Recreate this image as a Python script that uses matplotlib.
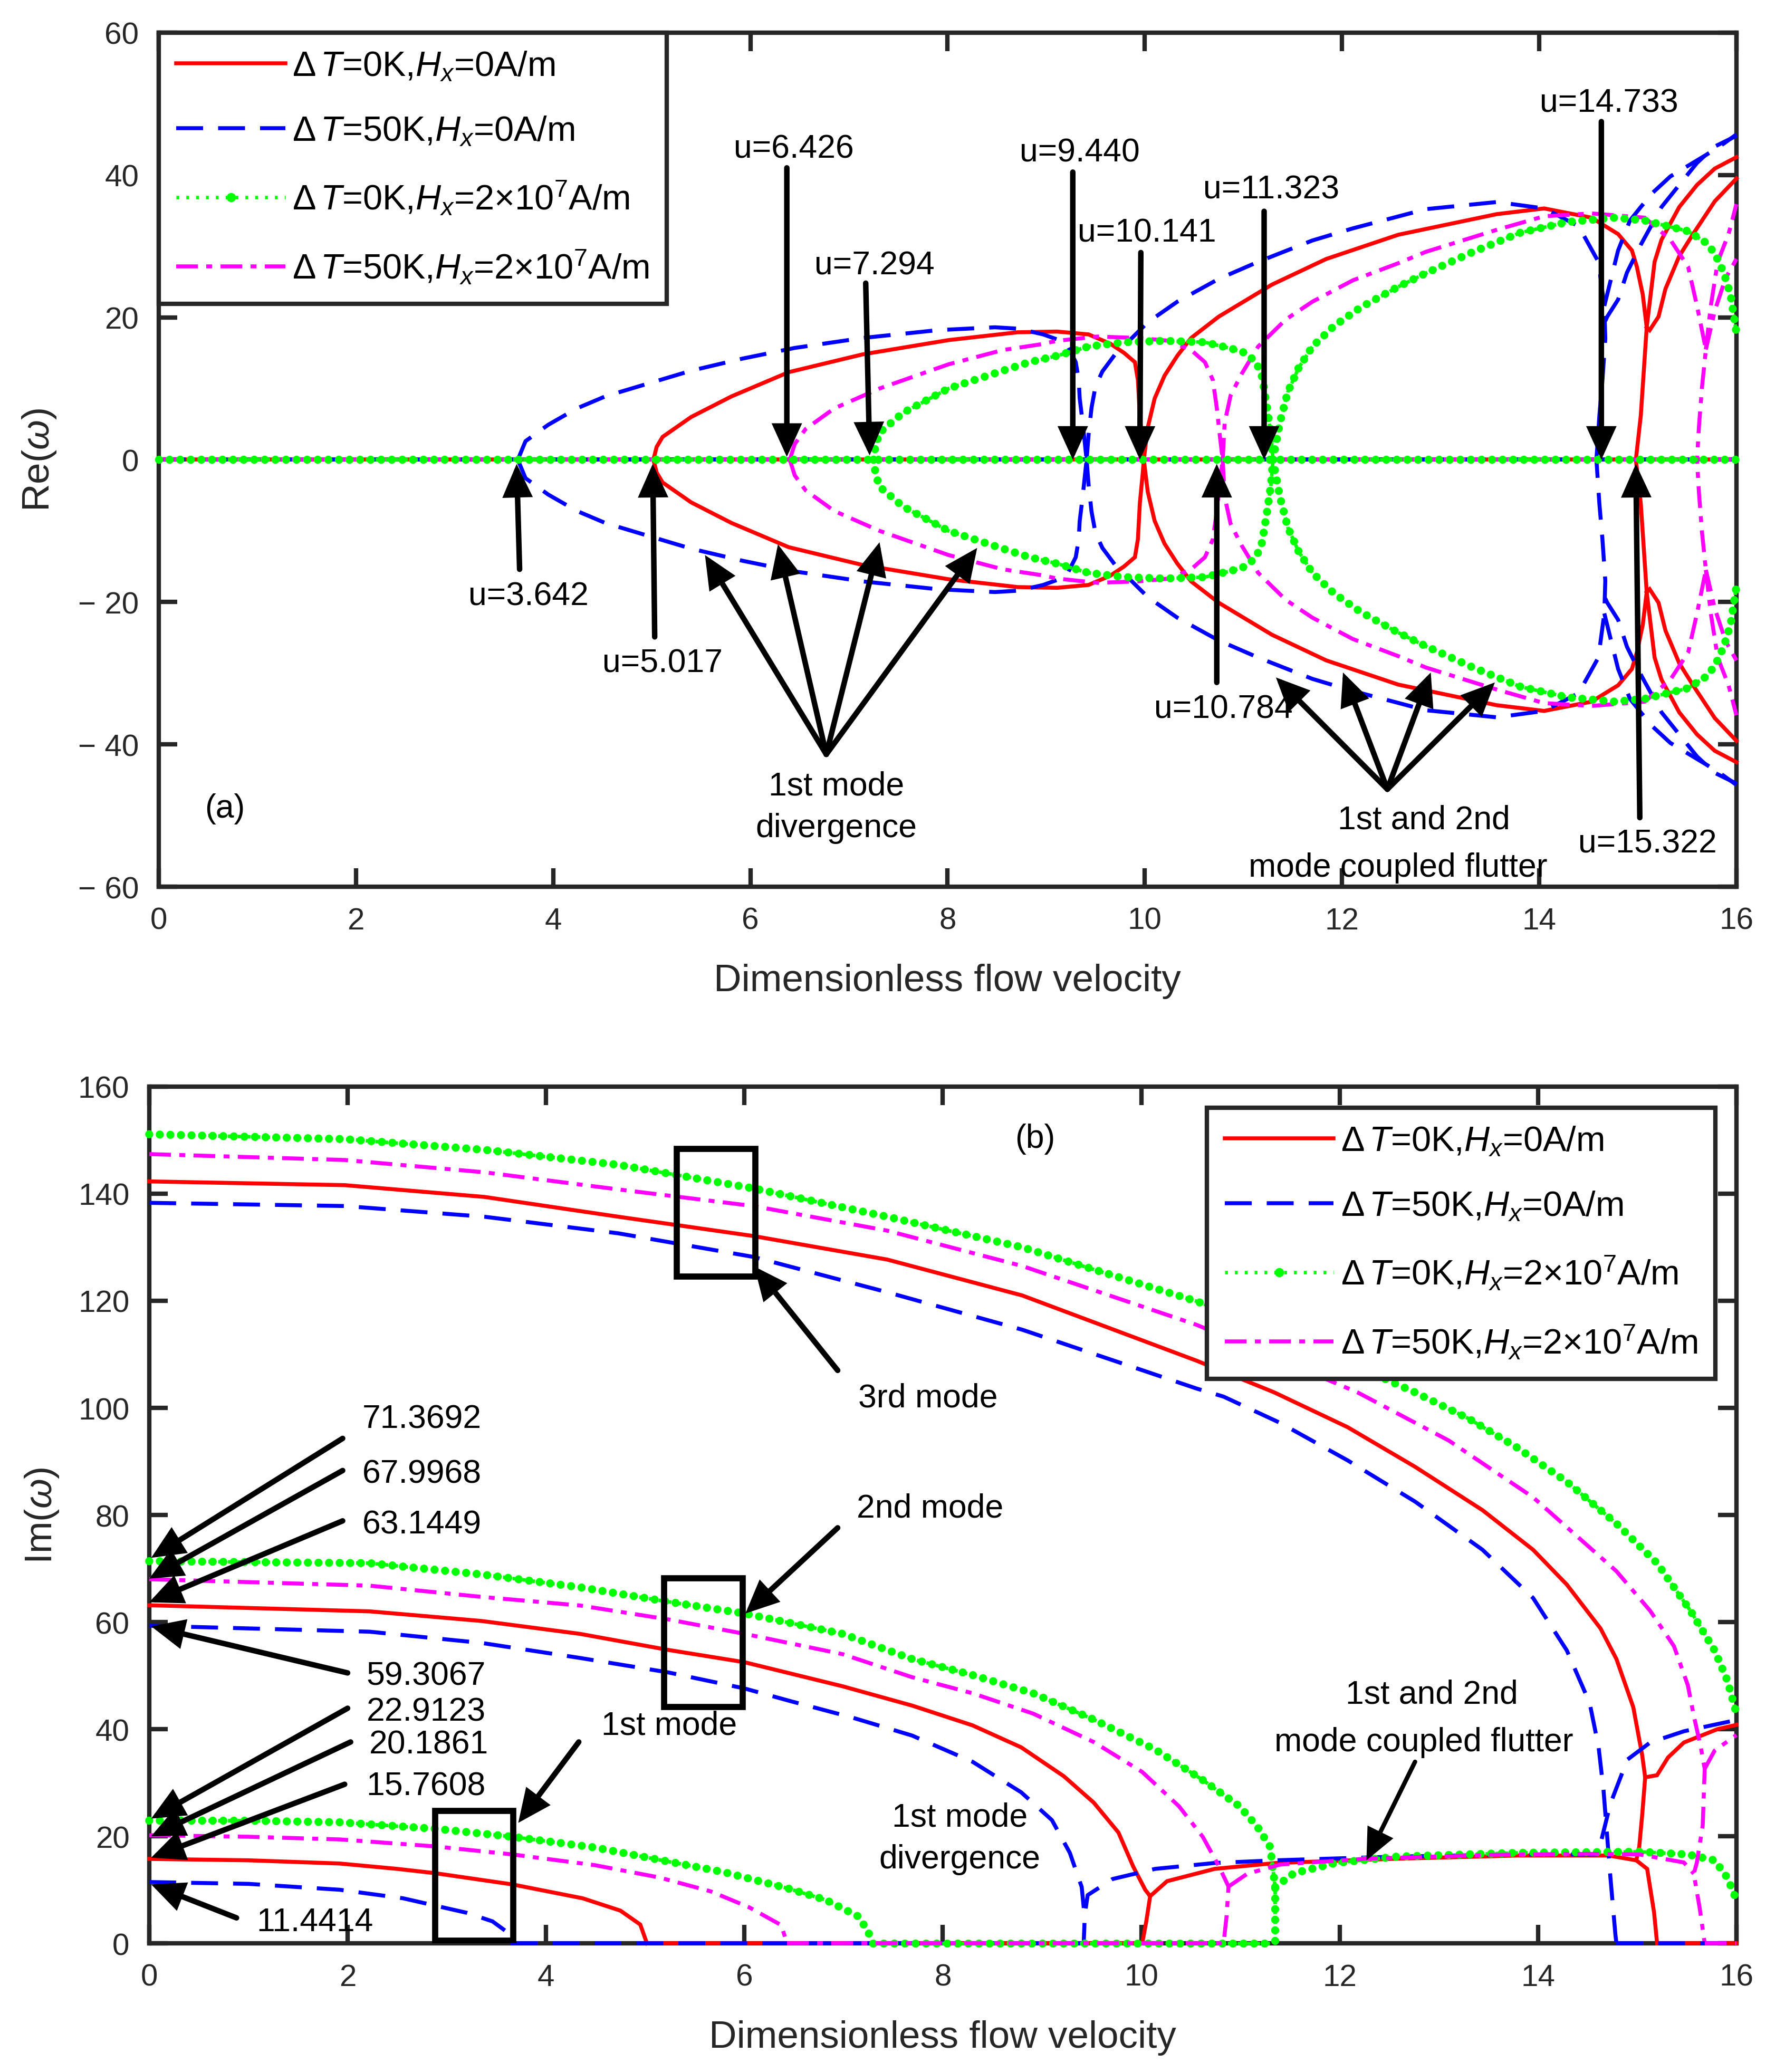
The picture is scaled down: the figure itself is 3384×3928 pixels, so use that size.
import matplotlib
matplotlib.use("Agg")
import matplotlib.pyplot as plt
from matplotlib.lines import Line2D
from matplotlib.patches import Rectangle

plt.rcParams['font.family'] = ['Liberation Sans', 'DejaVu Sans']
plt.rcParams['mathtext.fontset'] = 'custom'
plt.rcParams['mathtext.rm'] = 'Liberation Sans'
plt.rcParams['mathtext.it'] = 'Liberation Sans:italic'
plt.rcParams['mathtext.bf'] = 'Liberation Sans:bold'

RED, BLUE, GREEN, MAG = '#FF0000', '#0000FF', '#00FF00', '#FF00FF'
AXC = '#262626'

labels = [r'$\Delta\,T$=0K,$H_x$=0A/m',
          r'$\Delta\,T$=50K,$H_x$=0A/m',
          r'$\Delta\,T$=0K,$H_x$=2$\times$10$^7$A/m',
          r'$\Delta\,T$=50K,$H_x$=2$\times$10$^7$A/m']

# ---------------- (a) Re(w): upper halves, lower halves are mirrored ----------------
u_span = [0, 16]
zero_span = [0, 0]

red_div_u = [5.017, 5.05, 5.11, 5.40, 5.81, 6.39, 7.14, 8.01, 8.71, 9.11, 9.43, 9.65, 9.79, 9.90, 9.93, 9.95, 9.98, 9.99]
red_div_v = [0, 1.8, 3.2, 6.0, 8.9, 12.3, 14.8, 16.8, 17.9, 18.0, 17.6, 16.3, 15.0, 13.7, 11.2, 6.1, 1.8, 0]
red_flut_u = [9.99, 10.03, 10.10, 10.20, 10.33, 10.47, 10.75, 11.29, 11.84, 12.57, 13.57, 14.05, 14.53, 14.80, 14.94, 14.99, 15.05, 15.09, 15.06, 15.03, 14.98]
red_flut_v = [0, 4.5, 8.6, 11.8, 14.6, 17.1, 20.1, 24.6, 28.2, 31.6, 34.5, 35.3, 34.0, 31.7, 29.4, 27.1, 23.2, 18.6, 12.4, 6.2, 0]
red_hi1_u = [15.09, 15.17, 15.24, 15.42, 15.60, 15.78, 16.0]
red_hi1_v = [18.6, 27.8, 30.9, 35.5, 38.6, 40.9, 42.5]
red_hi2_u = [15.09, 15.12, 15.21, 15.28, 15.42, 15.56, 15.78, 16.0]
red_hi2_v = [18.6, 18.2, 20.1, 24.0, 28.6, 31.7, 36.3, 39.5]

blue_div_u = [3.642, 3.72, 3.95, 4.24, 4.53, 4.94, 5.40, 5.92, 6.45, 7.14, 7.90, 8.48, 8.72, 8.97, 9.11, 9.22, 9.30, 9.33, 9.34, 9.37, 9.39, 9.41]
blue_div_v = [0, 2.6, 4.9, 7.2, 8.9, 10.6, 12.5, 14.2, 15.7, 17.1, 18.2, 18.6, 18.4, 17.6, 16.9, 15.9, 13.7, 11.2, 8.6, 5.2, 2.6, 0]
blue_flut_u = [9.41, 9.43, 9.46, 9.50, 9.57, 9.71, 9.87, 10.03, 10.33, 10.75, 11.15, 11.70, 12.11, 12.55, 12.85, 13.57, 14.05, 14.40, 14.60, 14.66, 14.67, 14.64, 14.61, 14.58]
blue_flut_v = [0, 3.5, 7.3, 10.3, 12.4, 15.0, 17.1, 19.3, 22.2, 25.4, 27.8, 30.8, 32.5, 34.1, 35.2, 36.2, 35.3, 32.8, 27.8, 21.6, 17.0, 11.0, 6.2, 0]
blue_hi1_u = [14.67, 14.69, 14.80, 14.89, 15.03, 15.24, 15.42, 15.60, 15.78, 16.0]
blue_hi1_v = [19.5, 20.1, 22.5, 26.3, 30.2, 35.5, 38.6, 41.7, 44.0, 45.5]
blue_hi2_u = [14.66, 14.73, 14.80, 14.92, 15.03, 15.15, 15.33, 15.51, 15.69, 15.87, 16.0]
blue_hi2_v = [21.6, 25.5, 29.4, 33.6, 35.5, 37.5, 39.8, 41.3, 42.8, 44.4, 45.7]

mag_div_u = [6.40, 6.45, 6.56, 6.85, 7.31, 8.01, 8.56, 8.94, 9.11, 9.52, 9.93, 10.25, 10.47, 10.61, 10.69, 10.73, 10.76, 10.79]
mag_div_v = [0, 2.2, 4.3, 7.2, 10.0, 13.4, 15.4, 16.2, 16.7, 17.3, 17.1, 16.7, 15.4, 13.7, 11.2, 7.3, 3.5, 0]
mag_flut_u = [10.79, 10.81, 10.87, 10.98, 11.15, 11.43, 11.70, 12.11, 12.57, 12.85, 13.57, 14.05, 14.53, 15.07, 15.33, 15.51, 15.60, 15.69, 15.65, 15.62, 15.60]
mag_flut_v = [0, 5.2, 9.0, 12.0, 15.9, 19.7, 22.2, 25.2, 27.6, 29.2, 32.3, 34.2, 34.6, 34.0, 30.9, 27.1, 21.6, 15.5, 10.1, 4.7, 0]
mag_hi1_u = [15.69, 15.74, 15.81, 15.92, 16.0]
mag_hi1_v = [15.5, 21.6, 27.8, 31.7, 35.9]
mag_hi2_u = [15.69, 15.78, 15.89, 16.0]
mag_hi2_v = [15.5, 20.9, 25.5, 28.2]

green_div_u = [7.25, 7.27, 7.31, 7.55, 8.01, 8.56, 8.83, 9.11, 9.43, 9.79, 10.20, 10.61, 10.88, 11.02, 11.13, 11.19, 11.24, 11.28, 11.30]
green_div_v = [0, 2.0, 3.8, 6.6, 10.0, 12.5, 13.7, 14.6, 15.9, 16.5, 16.7, 16.5, 15.6, 15.0, 13.7, 11.6, 7.3, 3.5, 0]
green_flut_u = [11.30, 11.37, 11.45, 11.56, 11.70, 11.92, 12.19, 12.57, 12.85, 13.33, 13.81, 14.29, 14.77, 15.07, 15.51, 15.69, 15.78, 15.87, 15.94, 16.0]
green_flut_v = [0, 5.2, 9.5, 12.9, 15.9, 18.8, 21.4, 24.3, 26.2, 29.2, 31.9, 33.4, 34.0, 33.6, 32.1, 30.5, 29.0, 26.3, 23.2, 17.8]

# ---------------- (b) Im(w) ----------------
red_m1_u = [0, 1.0, 1.92, 2.5, 2.88, 3.66, 4.37, 4.75, 4.95, 5.017]
red_m1_v = [15.76, 15.5, 14.9, 13.9, 13.1, 11.0, 8.4, 6.1, 3.5, 0]
blue_m1_u = [0, 1.0, 1.92, 2.56, 3.2, 3.46, 3.63, 3.642]
blue_m1_v = [11.44, 11.1, 10.0, 8.4, 5.7, 4.1, 1.8, 0]
mag_m1_u = [0, 1.0, 1.92, 2.88, 3.66, 4.49, 5.14, 5.66, 6.05, 6.37, 6.43]
mag_m1_v = [20.19, 19.9, 19.4, 18.1, 16.6, 14.6, 12.3, 9.7, 6.7, 3.4, 0]
green_m1_u = [0, 1.0, 1.92, 2.88, 3.66, 4.49, 5.14, 5.79, 6.43, 6.82, 7.14, 7.24, 7.294]
green_m1_v = [22.91, 22.9, 22.6, 21.4, 19.9, 17.9, 15.6, 13.3, 10.3, 8.1, 5.1, 2.5, 0]

red_m2_u = [0, 2.22, 3.35, 4.34, 5.23, 6.0, 6.99, 7.69, 8.30, 8.79, 9.22, 9.52, 9.77, 9.92, 10.04, 10.09, 10.05, 10.01]
red_m2_v = [63.14, 62.0, 60.2, 57.8, 54.8, 52.5, 48.0, 44.4, 40.7, 36.6, 31.2, 26.3, 20.7, 14.3, 10.0, 8.8, 4.0, 0]
blue_m2_u = [0, 2.22, 3.35, 4.34, 5.23, 6.0, 6.47, 7.08, 7.69, 8.30, 8.79, 9.10, 9.28, 9.40, 9.43, 9.42]
blue_m2_v = [59.31, 58.2, 56.1, 53.3, 50.6, 47.6, 45.2, 42.2, 38.8, 33.9, 28.2, 23.0, 16.9, 10.5, 4.8, 0]
mag_m2_u = [0, 2.22, 3.35, 4.34, 5.23, 6.0, 6.99, 7.69, 8.30, 8.91, 9.52, 10.01, 10.38, 10.62, 10.78, 10.88, 10.86, 10.83]
mag_m2_v = [68.0, 66.8, 64.7, 63.1, 60.5, 57.8, 54.0, 49.7, 46.7, 42.9, 37.6, 32.0, 25.6, 19.9, 14.5, 10.6, 5.0, 0]
green_m2_u = [0, 2.22, 3.35, 4.34, 5.23, 6.0, 6.99, 7.69, 8.30, 8.91, 9.52, 10.14, 10.62, 10.99, 11.17, 11.30, 11.35, 11.35]
green_m2_v = [71.37, 71.0, 68.9, 66.5, 63.8, 61.6, 57.8, 53.1, 50.1, 46.7, 41.8, 36.2, 30.5, 25.6, 21.8, 18.0, 10.5, 0]

red_cf_u = [10.09, 10.26, 10.74, 11.36, 12.58, 13.80, 14.71, 14.99, 15.10, 15.17, 15.20]
red_cf_v = [8.8, 11.6, 13.9, 15.0, 15.8, 16.4, 16.4, 15.5, 13.9, 5.7, 0]
blue_cf_u = [9.44, 9.46, 9.71, 10.14, 10.74, 11.36, 12.58, 13.80, 14.59, 14.62, 14.73, 14.90, 15.13, 15.47, 16.0]
blue_cf_v = [6.5, 9.0, 12.0, 13.9, 15.0, 15.5, 16.2, 16.6, 16.6, 17.9, 26.1, 34.3, 37.5, 39.6, 41.7]
mag_cf_u = [10.88, 11.07, 11.40, 12.27, 13.50, 14.50, 15.02, 15.26, 15.47, 15.57]
mag_cf_v = [10.6, 13.0, 14.7, 15.8, 16.5, 16.7, 16.6, 15.8, 15.1, 13.0]
green_cf_u = [11.35, 11.54, 11.96, 12.58, 13.80, 15.02, 15.51, 15.78, 15.91, 15.98, 16.0]
green_cf_v = [10.5, 13.1, 15.0, 16.2, 16.9, 17.1, 16.6, 15.5, 12.2, 9.0, 8.1]

red_m3_u = [0, 1.97, 3.38, 4.73, 6.09, 7.44, 8.80, 10.56, 11.34, 12.08, 12.76, 13.44, 13.95, 14.29, 14.63, 14.79, 14.96, 15.05, 15.08, 15.05, 15.02, 14.99]
red_m3_v = [142.3, 141.6, 139.4, 135.7, 132.1, 127.7, 121.0, 108.8, 102.9, 96.4, 89.0, 80.9, 73.5, 67.0, 58.8, 53.1, 44.1, 35.1, 31.0, 24.0, 18.0, 15.5]
red_m3b_u = [15.08, 15.20, 15.31, 15.47, 15.81, 16.0]
red_m3b_v = [31.0, 31.4, 34.7, 37.5, 40.0, 40.8]
blue_m3_u = [0, 1.97, 3.38, 4.73, 6.09, 7.44, 8.80, 10.56, 10.83, 11.40, 12.08, 12.76, 13.44, 13.95, 14.29, 14.52, 14.61, 14.66, 14.73, 14.78, 14.79]
blue_m3_v = [138.3, 137.7, 135.7, 132.6, 128.2, 121.6, 114.6, 103.6, 102.1, 97.2, 90.2, 82.5, 73.5, 64.5, 54.7, 44.9, 36.7, 28.6, 12.2, 1.6, 0]
mag_m3_u = [0, 1.97, 3.38, 4.73, 6.09, 7.44, 8.80, 10.56, 12.18, 13.10, 13.95, 14.79, 15.13, 15.37, 15.51, 15.57, 15.64, 15.68, 15.66, 15.60, 15.57, 15.63, 15.68]
mag_m3_v = [147.4, 146.3, 144.0, 140.8, 137.7, 133.1, 126.5, 115.5, 102.9, 93.9, 83.3, 69.5, 62.1, 55.5, 48.2, 42.5, 36.7, 32.6, 22.0, 15.0, 13.0, 6.5, 0]
mag_m3b_u = [15.68, 15.78, 16.0]
mag_m3b_v = [32.6, 36.0, 38.9]
green_m3_u = [0, 1.97, 3.38, 4.73, 6.09, 7.44, 8.80, 10.56, 11.60, 12.76, 13.30, 13.78, 14.29, 14.79, 15.20, 15.54, 15.78, 15.91, 16.0]
green_m3_v = [151.1, 150.2, 148.2, 145.4, 141.0, 135.7, 130.0, 119.9, 112.5, 102.9, 98.0, 92.7, 86.2, 78.4, 71.0, 62.0, 54.7, 49.0, 42.9]

# Im(w) = 0 stretches along the axis
red_z_u = [[5.017, 10.01], [15.20, 16.0]]
blue_z_u = [[3.642, 9.42], [14.79, 16.0]]
mag_z_u = [[6.43, 10.83], [15.68, 16.0]]
green_z_u = [[7.294, 11.35]]

# tick labels (MATLAB style minus with a gap)
a_yticks = [-60, -40, -20, 0, 20, 40, 60]
a_yticklabels = ['\u2212 60', '\u2212 40', '\u2212 20', '0', '20', '40', '60']

# ---------------- annotations ----------------
a_texts = ['u=3.642', 'u=5.017', 'u=6.426', 'u=7.294', 'u=9.440', 'u=10.141',
           'u=11.323', 'u=10.784', 'u=14.733', 'u=15.322']
a_text_xy = [(3.75, -19.2), (5.11, -28.6), (6.44, 43.7), (7.26, 27.3), (9.34, 43.2),
             (10.02, 31.9), (11.28, 38.0), (10.80, -35.0), (14.71, 50.1), (15.10, -53.9)]
a_tail = [(3.66, -15.4), (5.03, -24.9), (6.37, 41.0), (7.17, 24.8), (9.27, 40.4),
          (9.96, 29.1), (11.21, 34.9), (10.73, -31.3), (14.63, 47.5), (15.02, -50.3)]
a_tip = [(3.63, -0.6), (5.01, -0.6), (6.37, 0.4), (7.21, 0.6), (9.27, 0.0),
         (9.95, 0.0), (11.21, 0.0), (10.73, -0.6), (14.63, 0.0), (14.98, -0.6)]
a_div_from = (6.77, -41.4)
a_div_to = [(5.54, -13.4), (6.28, -11.9), (7.31, -11.6), (8.30, -12.4)]
a_flut_from = (12.46, -46.3)
a_flut_to = [(11.33, -30.6), (12.01, -29.9), (12.90, -29.9), (13.55, -31.3)]

b_values = ['71.3692', '67.9968', '63.1449', '59.3067', '22.9123', '20.1861', '15.7608', '11.4414']
b_value_xy = [(2.75, 97.9), (2.75, 87.7), (2.75, 78.2), (2.79, 50.0), (2.79, 43.3),
              (2.82, 37.1), (2.79, 29.4), (1.67, 4.0)]
b_value_tail = [(1.95, 94.3), (1.95, 88.3), (1.95, 78.9), (2.0, 50.5), (2.0, 43.9),
                (2.03, 37.6), (1.97, 29.7), (0.88, 4.75)]
b_value_tip = [(0.02, 72.0), (0.0, 68.1), (0.0, 63.7), (0.02, 59.2), (0.02, 23.3),
               (0.02, 20.0), (0.02, 16.0), (0.02, 11.0)]
b_boxes = [(5.32, 124.5, 0.79, 23.9), (5.19, 44.1, 0.79, 24.1), (2.88, 0.5, 0.79, 24.2)]


def curve(ax, u, v, key, z=2):
    kw = dict(zorder=z, clip_on=False)
    if key == 'red':
        ax.plot(u, v, color=RED, lw=1.8, solid_joinstyle='miter', **kw)
    elif key == 'blue':
        ax.plot(u, v, color=BLUE, lw=1.8, dashes=(6.8, 3.8), **kw)
    elif key == 'mag':
        ax.plot(u, v, color=MAG, lw=1.8, dashes=(5.5, 2.1, 1.5, 2.1), **kw)
    else:
        ax.plot(u, v, color=GREEN, lw=1.6, dashes=(0.8, 2.0), **kw)
        ax.plot(u, v, color=GREEN, lw=3.7, dashes=(0.001, 1.3),
                dash_capstyle='round', **kw)


def arrow(ax, tail, tip, lw=2.5):
    ax.annotate('', xy=tip, xytext=tail,
                arrowprops=dict(arrowstyle='-|>,head_length=0.55,head_width=0.25',
                                mutation_scale=20, lw=lw, color='k',
                                shrinkA=0, shrinkB=0, joinstyle='miter'),
                zorder=6)


def style(ax, xl, yl):
    for s in ax.spines.values():
        s.set_linewidth(2.0)
        s.set_color(AXC)
        s.set_zorder(1)
    ax.tick_params(direction='in', length=8.4, width=2.0, top=True, right=True,
                   labelsize=14, colors=AXC, pad=9)
    ax.set_xlim(0, 16)
    ax.set_xticks(range(0, 17, 2))
    ax.set_xlabel('Dimensionless flow velocity', fontsize=17.5, color=AXC)
    ax.set_ylabel(yl, fontsize=17.5, color=AXC)
    ax.xaxis.label.set_verticalalignment('center')
    ax.yaxis.label.set_verticalalignment('center')
    ax.yaxis.label.set_horizontalalignment('center')
    ax.xaxis.set_label_coords(0.5, xl[0])
    ax.yaxis.set_label_coords(xl[1], 0.5)


def proxies():
    return [Line2D([], [], color=RED, lw=1.8),
            Line2D([], [], color=BLUE, lw=1.8, dashes=(6.8, 3.8)),
            Line2D([], [], color=GREEN, lw=1.6, dashes=(0.8, 2.0), marker='o',
                   markersize=4.2, markeredgewidth=0),
            Line2D([], [], color=MAG, lw=1.8, dashes=(5.5, 2.1, 1.5, 2.1))]


def legend(ax, **kw):
    lg = ax.legend(proxies(), labels, fontsize=16, handlelength=3.1, handletextpad=0.2,
                   labelspacing=0.9, borderpad=0.5, numpoints=1, fancybox=False,
                   framealpha=1, edgecolor=AXC, **kw)
    lg.get_frame().set_linewidth(2.0)
    lg.set_zorder(8)
    return lg


fig = plt.figure(figsize=(3384 / 300, 3929 / 300), dpi=300)
ax1 = fig.add_axes([0.0889, 0.5719, 0.8839, 0.4121])
ax2 = fig.add_axes([0.0836, 0.0621, 0.8892, 0.41334])

# ---- panel (a)
a_series = [
    ('red', [(red_div_u, red_div_v), (red_flut_u, red_flut_v), (red_hi1_u, red_hi1_v), (red_hi2_u, red_hi2_v)]),
    ('blue', [(blue_div_u, blue_div_v), (blue_flut_u, blue_flut_v), (blue_hi1_u, blue_hi1_v), (blue_hi2_u, blue_hi2_v)]),
    ('mag', [(mag_div_u, mag_div_v), (mag_flut_u, mag_flut_v), (mag_hi1_u, mag_hi1_v), (mag_hi2_u, mag_hi2_v)]),
    ('green', [(green_div_u, green_div_v), (green_flut_u, green_flut_v)]),
]
for key, branches in a_series:
    curve(ax1, u_span, zero_span, key)
    for u, v in branches:
        curve(ax1, u, v, key)
        curve(ax1, u, [-x for x in v], key)

ax1.set_ylim(-60, 60)
ax1.set_yticks(a_yticks)
ax1.set_yticklabels(a_yticklabels)
style(ax1, (-0.110, -0.0756), r'Re($\omega$)')

for t, xy in zip(a_texts, a_text_xy):
    ax1.text(xy[0], xy[1], t, fontsize=15, ha='center', va='center', zorder=7)
for tl, tp in zip(a_tail, a_tip):
    arrow(ax1, tl, tp)
for tp in a_div_to:
    arrow(ax1, a_div_from, tp)
for tp in a_flut_to:
    arrow(ax1, a_flut_from, tp)
ax1.text(6.87, -48.8, '1st mode\ndivergence', fontsize=15, ha='center', va='center',
         linespacing=1.45, zorder=7)
ax1.text(12.83, -50.6, '1st and 2nd', fontsize=15, ha='center', va='center', zorder=7)
ax1.text(12.57, -57.3, 'mode coupled flutter', fontsize=15, ha='center', va='center', zorder=7)
ax1.text(0.67, -49.0, '(a)', fontsize=15, ha='center', va='center')

legend(ax1, loc='upper left', bbox_to_anchor=(0, 1), borderaxespad=0)

# ---- panel (b)
b_series = [
    ('red', [(red_m1_u, red_m1_v), (red_m2_u, red_m2_v), (red_cf_u, red_cf_v),
             (red_m3_u, red_m3_v), (red_m3b_u, red_m3b_v)], red_z_u),
    ('blue', [(blue_m1_u, blue_m1_v), (blue_m2_u, blue_m2_v), (blue_cf_u, blue_cf_v),
              (blue_m3_u, blue_m3_v)], blue_z_u),
    ('green', [(green_m1_u, green_m1_v), (green_m2_u, green_m2_v), (green_cf_u, green_cf_v),
               (green_m3_u, green_m3_v)], green_z_u),
    ('mag', [(mag_m1_u, mag_m1_v), (mag_m2_u, mag_m2_v), (mag_cf_u, mag_cf_v),
             (mag_m3_u, mag_m3_v), (mag_m3b_u, mag_m3b_v)], mag_z_u),
]
for key, branches, zeros in b_series:
    for u, v in branches:
        curve(ax2, u, v, key)
    for seg in zeros:
        curve(ax2, seg, [0, 0], key, z=3)

ax2.set_ylim(0, 160)
ax2.set_yticks(range(0, 161, 20))
style(ax2, (-0.1096, -0.0675), r'Im($\omega$)')

for x0, y0, w, h in b_boxes:
    ax2.add_patch(Rectangle((x0, y0), w, h, fill=False, lw=2.8, ec='k', zorder=6))
for t, xy in zip(b_values, b_value_xy):
    ax2.text(xy[0], xy[1], t, fontsize=15, ha='center', va='center', zorder=7)
for tl, tp in zip(b_value_tail, b_value_tip):
    arrow(ax2, tl, tp)

ax2.text(7.85, 101.9, '3rd mode', fontsize=15, ha='center', va='center')
arrow(ax2, (6.94, 107.0), (6.10, 126.4))
ax2.text(7.87, 81.3, '2nd mode', fontsize=15, ha='center', va='center')
arrow(ax2, (6.94, 77.6), (6.01, 61.6))
ax2.text(5.24, 40.7, '1st mode', fontsize=15, ha='center', va='center')
arrow(ax2, (4.33, 37.6), (3.72, 22.5))
ax2.text(8.17, 19.6, '1st mode\ndivergence', fontsize=15, ha='center', va='center',
         linespacing=1.45)
arrow(ax2, (7.97, 12.0), (7.69, -0.3), lw=2.0)
ax2.text(12.93, 46.5, '1st and 2nd', fontsize=15, ha='center', va='center')
ax2.text(12.85, 37.6, 'mode coupled flutter', fontsize=15, ha='center', va='center')
arrow(ax2, (12.76, 33.9), (12.27, 15.5), lw=2.0)
ax2.text(8.93, 150.3, '(b)', fontsize=15, ha='center', va='center')

legend(ax2, loc='upper right', borderaxespad=0.6)

fig.savefig('out.png', dpi=300, facecolor='white')
